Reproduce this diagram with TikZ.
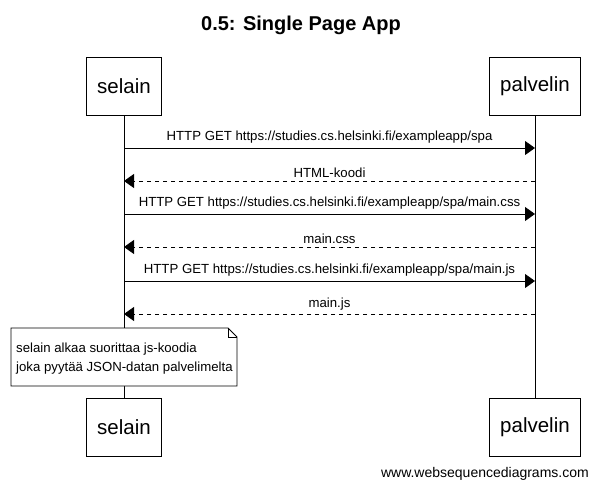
\documentclass[tikz,border=0pt]{standalone}
\usepackage{fontspec}
\setmainfont{Liberation Sans}
\usetikzlibrary{arrows.meta}

\tikzset{
  actor/.style={draw,line width=0.8pt,fill=white,minimum height=58pt,inner xsep=11pt,font=\fontsize{20.5}{24}\selectfont},
  msg/.style={line width=0.8pt,-{Triangle[length=10pt,width=14pt]}},
  reply/.style={msg,dash pattern=on 4pt off 4pt},
  msglabel/.style={font=\fontsize{13.2}{15}\selectfont,inner sep=0pt}
}

\begin{document}
\begin{tikzpicture}[x=1pt,y=-1pt,line cap=butt]
\useasboundingbox (0,0) rectangle (598,490);
\node[font=\bfseries\fontsize{20}{24}\selectfont] (title) at (301,25) {0.5: Single Page App};
% osapuolet
\node[actor] (selainTop) at (124,86) {selain};
\node[actor] (palvelinTop) at (535,86) {palvelin};
\node[actor] (selainBot) at (124,427) {selain};
\node[actor] (palvelinBot) at (535,427) {palvelin};
\draw[line width=0.8pt] (selainTop) -- (selainBot);
\draw[line width=0.8pt] (palvelinTop) -- (palvelinBot);
% viestit
\coordinate (s1) at (124,148); \coordinate (p1) at (535,148);
\coordinate (s2) at (124,181); \coordinate (p2) at (535,181);
\coordinate (s3) at (124,214); \coordinate (p3) at (535,214);
\coordinate (s4) at (124,247); \coordinate (p4) at (535,247);
\coordinate (s5) at (124,281); \coordinate (p5) at (535,281);
\coordinate (s6) at (124,314); \coordinate (p6) at (535,314);
\draw[msg] (s1) -- node[msglabel,above=4pt] {HTTP GET https://studies.cs.helsinki.fi/exampleapp/spa} (p1);
\draw[reply] (p2) -- node[msglabel,above=3pt] {HTML-koodi} (s2);
\draw[msg] (s3) -- node[msglabel,above=4pt] {HTTP GET https://studies.cs.helsinki.fi/exampleapp/spa/main.css} (p3);
\draw[reply] (p4) -- node[msglabel,above=3pt] {main.css} (s4);
\draw[msg] (s5) -- node[msglabel,above=4pt] {HTTP GET https://studies.cs.helsinki.fi/exampleapp/spa/main.js} (p5);
\draw[reply] (p6) -- node[msglabel,above=3pt] {main.js} (s6);
% muistiinpano
\draw[line width=0.8pt,fill=white] (11,328) -- (228,328) -- (237,337) -- (237,386) -- (11,386) -- cycle;
\draw[line width=0.6pt] (228,328) -- (228,337) -- (237,337);
\node[msglabel,anchor=west,align=left] (note) at (16,359) {selain alkaa suorittaa js-koodia\\[4pt]joka pyytää JSON-datan palvelimelta};
\node[msglabel,font=\fontsize{14}{16}\selectfont,anchor=east] (footer) at (589,474) {www.websequencediagrams.com};
\end{tikzpicture}
\end{document}
